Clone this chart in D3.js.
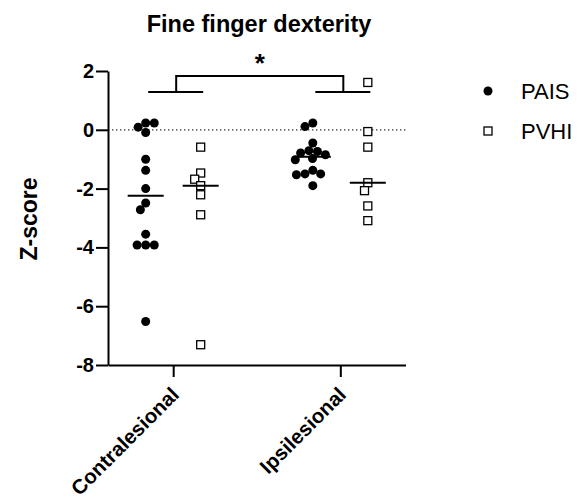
<!DOCTYPE html>
<html>
<head>
<meta charset="utf-8">
<script src="https://cdn.jsdelivr.net/npm/d3@7"></script>
<style>
  body { margin: 0; background: #fff; }
  text { font-family: "Liberation Sans", Arial, sans-serif; fill: #000; }
</style>
</head>
<body>
<svg id="chart" width="579" height="504"></svg>
<script>
var categories = ["Contralesional", "Ipsilesional"];
var series = ["PAIS", "PVHI"];
var paisContra = [0.23, -0.09, 0.09, 0.23, -1.0, -1.38, -2.0, -2.49, -2.72, -3.55, -3.92, -3.92, -3.92, -6.52];
var pvhiContra = [-0.59, -1.47, -1.68, -1.90, -2.21, -2.89, -7.31];
var paisIpsi = [0.23, 0.11, -0.45, -0.71, -0.74, -0.79, -0.85, -0.98, -1.02, -1.38, -1.5, -1.5, -1.53, -1.9];
var pvhiIpsi = [1.61, -0.06, -0.59, -1.8, -2.07, -2.59, -3.09];
var yTicks = [2, 0, -2, -4, -6, -8];

var groups = [
  {cat: "Contralesional", s: "PAIS", values: paisContra},
  {cat: "Contralesional", s: "PVHI", values: pvhiContra},
  {cat: "Ipsilesional", s: "PAIS", values: paisIpsi},
  {cat: "Ipsilesional", s: "PVHI", values: pvhiIpsi}
];

var svg = d3.select("#chart");

var x = d3.scalePoint().domain(categories).range([108, 405.5]).padding(0.39);
var xs = d3.scalePoint().domain(series).range([-27.5, 27.5]);
var y = d3.scaleLinear().domain([-8, 2]).range([365, 71]);

// simple beeswarm: put each point as near the group centre as it can go
function swarm(ys, d) {
  var placed = [];
  return ys.map(function(yy) {
    var cands = [0];
    placed.forEach(function(p) {
      var dy = Math.abs(p.y - yy);
      if (dy < d) {
        var dx = Math.sqrt(d * d - dy * dy);
        cands.push(p.x - dx, p.x + dx);
      }
    });
    cands.sort(function(a, b) { return Math.abs(a) - Math.abs(b) || a - b; });
    var px = cands.find(function(c) {
      return placed.every(function(p) { return (p.x - c) * (p.x - c) + (p.y - yy) * (p.y - yy) >= d * d - 0.01; });
    });
    placed.push({x: px, y: yy});
    return px;
  });
}

// zero line
svg.append("line")
  .attr("x1", x.range()[0]).attr("x2", x.range()[1])
  .attr("y1", y(0)).attr("y2", y(0))
  .attr("stroke", "#333").attr("stroke-width", 1.3)
  .attr("stroke-dasharray", "1.4,2.6");

// axes
var yAxis = svg.append("g")
  .attr("transform", "translate(108,0)")
  .call(d3.axisLeft(y).tickValues(yTicks).tickFormat(function(d) { return String(d); })
    .tickSize(12).tickSizeOuter(0).tickPadding(2));
var xAxis = svg.append("g")
  .attr("transform", "translate(0,365)")
  .call(d3.axisBottom(x).tickSize(12).tickSizeOuter(0).tickFormat(""));

[yAxis, xAxis].forEach(function(a) {
  a.select(".domain").attr("stroke", "#000").attr("stroke-width", 2);
  a.selectAll(".tick line").attr("stroke", "#000").attr("stroke-width", 2);
});
yAxis.selectAll(".tick text")
  .style("font-size", "20px").style("font-weight", "bold")
  .style("font-family", "'Liberation Sans', Arial, sans-serif");

svg.append("g").selectAll("text")
  .data(categories).enter().append("text")
  .attr("transform", function(d) { return "translate(" + (x(d) + 7) + ",396) rotate(-45)"; })
  .attr("text-anchor", "end")
  .style("font-size", "20.5px").style("font-weight", "bold")
  .text(function(d) { return d; });

// points
groups.forEach(function(g) {
  var cx = x(g.cat) + xs(g.s);
  var ys = g.values.map(function(v) { return y(v); });
  var offs = swarm(ys, 8.6);
  var layer = svg.append("g");
  if (g.s === "PAIS") {
    layer.selectAll("circle").data(g.values).enter().append("circle")
      .attr("cx", function(d, i) { return cx + offs[i]; })
      .attr("cy", function(d) { return y(d); })
      .attr("r", 4.5).attr("fill", "#000");
  } else {
    layer.selectAll("rect").data(g.values).enter().append("rect")
      .attr("x", function(d, i) { return cx + offs[i] - 4; })
      .attr("y", function(d) { return y(d) - 4; })
      .attr("width", 8).attr("height", 8)
      .attr("fill", "#fff").attr("stroke", "#000").attr("stroke-width", 1.3);
  }
  var med = d3.median(g.values);
  svg.append("line")
    .attr("x1", cx - 18).attr("x2", cx + 18)
    .attr("y1", y(med)).attr("y2", y(med))
    .attr("stroke", "#000").attr("stroke-width", 2);
});

// significance bracket
var bY = 92, tY = 76;
var bracket = svg.append("g").attr("fill", "none").attr("stroke", "#000").attr("stroke-width", 2);
var mids = categories.map(function(c) { return x(c) + 3; });
categories.forEach(function(c) {
  bracket.append("line")
    .attr("x1", x(c) + xs("PAIS") + 2.5).attr("x2", x(c) + xs("PVHI") + 2.5)
    .attr("y1", bY).attr("y2", bY);
});
bracket.append("path")
  .attr("d", "M" + mids[0] + "," + bY + "V" + tY + "H" + mids[1] + "V" + bY);
svg.append("text")
  .attr("x", (mids[0] + mids[1]) / 2).attr("y", 72)
  .attr("text-anchor", "middle")
  .style("font-size", "26px").style("font-weight", "bold")
  .text("*");

// title and y label
svg.append("text")
  .attr("x", 259).attr("y", 31.5)
  .attr("text-anchor", "middle")
  .style("font-size", "23.5px").style("font-weight", "bold")
  .text("Fine finger dexterity");
svg.append("text")
  .attr("transform", "translate(37,219) rotate(-90)")
  .attr("text-anchor", "middle")
  .style("font-size", "23px").style("font-weight", "bold")
  .text("Z-score");

// legend
var legend = svg.append("g");
series.forEach(function(s, i) {
  var ly = 91 + i * 40;
  if (s === "PAIS") {
    legend.append("circle").attr("cx", 488).attr("cy", ly).attr("r", 4.5).attr("fill", "#000");
  } else {
    legend.append("rect").attr("x", 484).attr("y", ly - 4).attr("width", 8).attr("height", 8)
      .attr("fill", "#fff").attr("stroke", "#000").attr("stroke-width", 1.3);
  }
  legend.append("text").attr("x", 521).attr("y", ly + 8)
    .style("font-size", "22px").text(s);
});
</script>
</body>
</html>
